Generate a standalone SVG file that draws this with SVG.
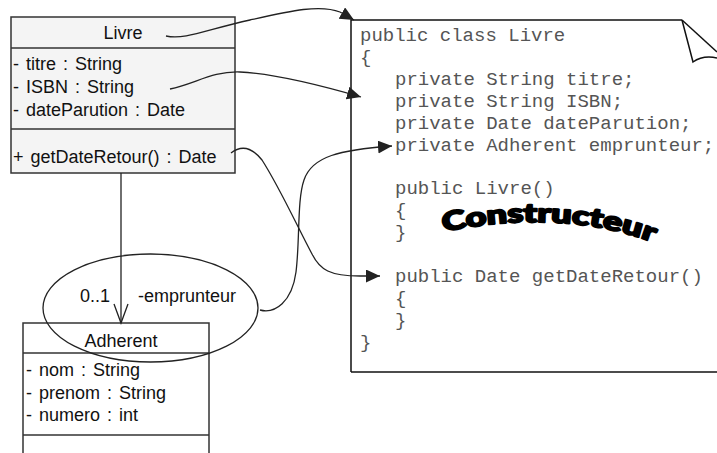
<svg xmlns="http://www.w3.org/2000/svg" width="717" height="453" viewBox="0 0 717 453">
<style>
.box{fill:#f4f4f4;stroke:#333;stroke-width:1.5}
.box2{fill:#fff;stroke:#333;stroke-width:1.5}
.sep{stroke:#333;stroke-width:1.5}
.t{font-family:"Liberation Sans",Arial,sans-serif;font-size:18px;fill:#111}
.c{font-family:"Liberation Mono","Courier New",monospace;font-size:19px;fill:#555}
.con{fill:none;stroke:#222;stroke-width:1.3}
.doc{fill:none;stroke:#111;stroke-width:1.5}
</style>
<defs>
<marker id="ah" markerUnits="userSpaceOnUse" markerWidth="16" markerHeight="14" refX="14" refY="6.5" orient="auto">
<path d="M0,0 L14,6.5 L0,13 z" fill="#222"/>
</marker>
<path id="arc" d="M444,232 C505,218 590,216 660,245"/>
</defs>

<g id="document">
<path class="doc" d="M351,372 L351,20 L682,20"/>
<path class="doc" d="M351,372 L717,372"/>
<path class="doc" d="M682,20 L693,62 Q703,55 717,58"/>
<path class="doc" d="M682,20 L717,52"/>
<text class="c" x="360" y="41">public class Livre</text>
<text class="c" x="360" y="62.9">{</text>
<text class="c" x="395" y="84.8">private String titre;</text>
<text class="c" x="395" y="106.7">private String ISBN;</text>
<text class="c" x="395" y="128.6">private Date dateParution;</text>
<text class="c" x="395" y="150.5">private Adherent emprunteur;</text>
<text class="c" x="395" y="194.3">public Livre()</text>
<text class="c" x="395" y="216.2">{</text>
<text class="c" x="395" y="238.1">}</text>
<text class="c" x="395" y="281.9">public Date getDateRetour()</text>
<text class="c" x="395" y="303.8">{</text>
<text class="c" x="395" y="325.7">}</text>
<text class="c" x="360" y="347.6">}</text>
<text font-family="Lato,'DejaVu Sans',sans-serif" font-weight="900" font-size="26" fill="#000" stroke="#000" stroke-width="2" stroke-linejoin="round"><textPath href="#arc" textLength="212" lengthAdjust="spacingAndGlyphs">Constructeur</textPath></text>
</g>

<g id="livre">
<rect class="box" x="11" y="17" width="224" height="156"/>
<line class="sep" x1="11" y1="48" x2="235" y2="48"/>
<line class="sep" x1="11" y1="129" x2="235" y2="129"/>
<text class="t" x="123" y="39" text-anchor="middle">Livre</text>
<text class="t" x="13" y="70" word-spacing="2">- titre : String</text>
<text class="t" x="13" y="93" word-spacing="2">- ISBN : String</text>
<text class="t" x="13" y="116" word-spacing="2">- dateParution : Date</text>
<text class="t" x="13" y="163" word-spacing="2">+ getDateRetour() : Date</text>
</g>

<g id="adherent">
<rect class="box2" x="23" y="323" width="186" height="140"/>
<line class="sep" x1="23" y1="353" x2="209" y2="353"/>
<line class="sep" x1="23" y1="435" x2="209" y2="435"/>
<text class="t" x="121" y="347" text-anchor="middle">Adherent</text>
<text class="t" x="26" y="376" word-spacing="2">- nom : String</text>
<text class="t" x="26" y="398.5" word-spacing="2">- prenom : String</text>
<text class="t" x="26" y="421" word-spacing="2">- numero : int</text>
</g>

<g id="connectors">
<path class="con" d="M121,173 L121,323"/>
<path class="con" d="M114,304 L121,323 L128,304"/>
<text class="t" x="80" y="302">0..1</text>
<text class="t" x="138" y="302">-emprunteur</text>
<ellipse class="con" cx="150.5" cy="308" rx="107.5" ry="54"/>
<path class="con" marker-end="url(#ah)" d="M166,36 C185,40 205,30 250,20 C290,11 320,4 340,12 L354,20"/>
<path class="con" marker-end="url(#ah)" d="M170,89 C195,84 212,71 240,72 C280,74 330,88 361,97"/>
<path class="con" marker-end="url(#ah)" d="M231,153 C240,146 250,145 262,160 C280,188 298,228 312,254 C320,270 330,276 360,276 L380,276"/>
<path class="con" marker-end="url(#ah)" d="M260,310 C275,314 292,302 296,272 C300,240 297,200 304,180 C312,156 340,150 392,146"/>
</g>
</svg>
